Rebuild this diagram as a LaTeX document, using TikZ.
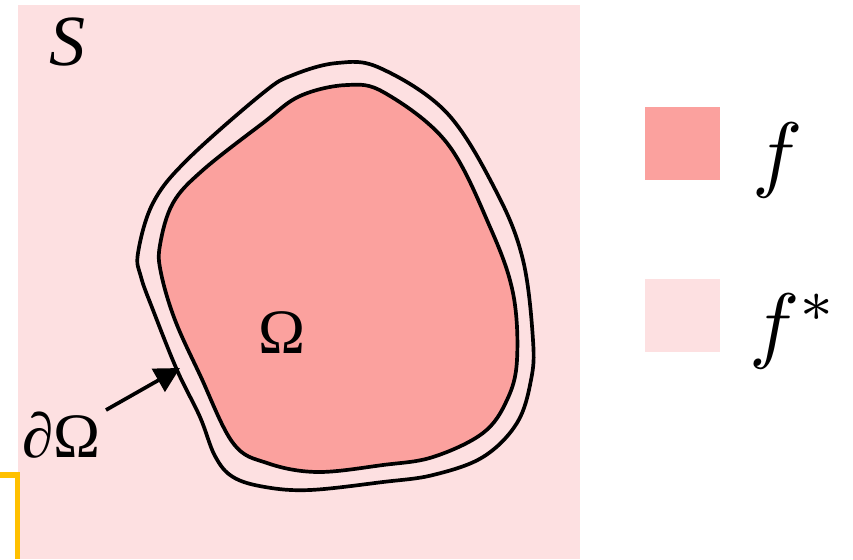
\documentclass[tikz,border=0pt]{standalone}
\usepackage{graphicx}
\usepackage{fontspec}
\newfontfamily\tnr{Liberation Serif}
\usetikzlibrary{arrows.meta}
\definecolor{bgpink}{RGB}{253,224,225}
\definecolor{fpink}{RGB}{251,161,158}
\definecolor{brk}{RGB}{255,192,0}
\tikzset{
  outline/.style={draw=black, line width=2.1pt},
  legendbox/.style={minimum width=1.5cm, minimum height=1.46cm, inner sep=0pt, draw=none},
  lbl/.style={inner sep=0pt},
}
\begin{document}
\begin{tikzpicture}[x=0.02cm,y=-0.02cm]
\useasboundingbox (0,0) rectangle (853,559);
% background square
\fill[bgpink] (18,5) rectangle (580,559);
% orange bracket
\draw[brk, line width=0.12cm, line cap=butt] (0,475) -- (17.5,475) -- (17.5,559);
% outer boundary
\draw[outline, fill=bgpink] plot[smooth cycle, tension=0.6] coordinates {
 (337,63) (380,68) (447,113) (497,193) (523,260) (533,340) (531,380) (517,423)
 (483,457) (433,475) (383,482) (310,490) (265,487) (233,477) (215,456) (200,417)
 (177,370) (153,310) (141,277) (138,253) (153,203) (187,160) (263,93) (293,75)};
% inner region
\draw[outline, fill=fpink] plot[smooth cycle, tension=0.6] coordinates {
 (347,85) (385,93) (447,143) (490,227) (513,293) (517,360) (507,400) (483,433)
 (433,457) (383,465) (317,472) (267,463) (233,443) (200,375) (175,320) (161,273)
 (160,245) (173,203) (203,170) (263,123) (300,96)};
% labels
\node[lbl] (S) at (68,42) {\tnr\fontsize{41}{41}\selectfont\itshape S};
\node[lbl] (Om) at (282,333) {\tnr\fontsize{36}{36}\selectfont Ω};
\node[lbl, anchor=base west] (dOm) at (22,457) {\tnr\fontsize{36}{36}\selectfont\itshape ∂\upshape Ω};
\coordinate (tail) at (106,410);
\coordinate (tip) at (180,368);
\draw[line width=2.1pt, -{Triangle[length=0.5cm,width=0.52cm]}] (tail) -- (tip);
% legend
\node[legendbox, fill=fpink] (fbox) at (682.5,143.5) {};
\node[legendbox, fill=bgpink] (fsbox) at (682.5,315) {};
\node[lbl] (f) at (778,160) {\scalebox{4.8}{$f$}};
\node[lbl] (fs) at (794,331) {\scalebox{4.8}{$f^{*}$}};
\end{tikzpicture}
\end{document}
